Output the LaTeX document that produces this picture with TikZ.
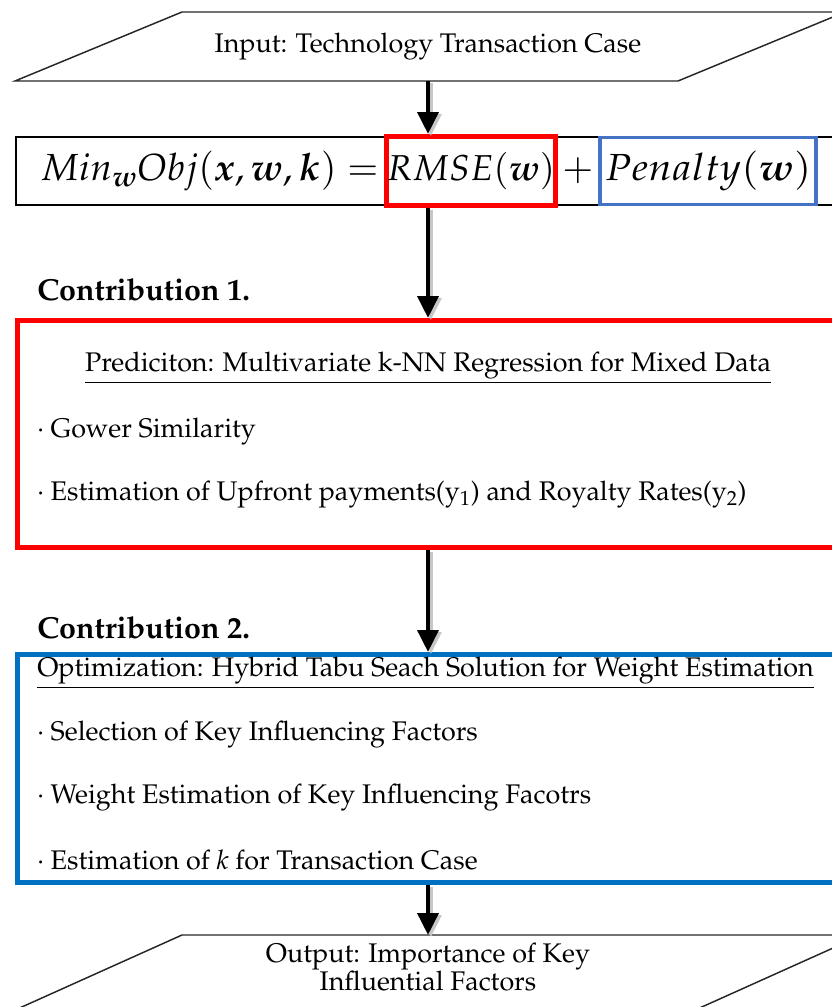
\documentclass[tikz,border=0pt]{standalone}
\usepackage[T1]{fontenc}
\usepackage{mathpazo}
\usepackage{bm}
\usepackage{graphicx}
\usetikzlibrary{arrows.meta}
\definecolor{myred}{RGB}{255,0,0}
\definecolor{myblue}{RGB}{0,112,192}
\definecolor{lblue}{RGB}{68,114,196}
\begin{document}
\begin{tikzpicture}[x=0.75pt,y=-0.75pt,
  txt/.style={font=\fontsize{20.2}{23}\selectfont, inner sep=0pt},
  ctitle/.style={font=\fontsize{22.8}{26}\selectfont\bfseries, inner sep=0pt},
  fml/.style={font=\fontsize{28.3}{33}\selectfont, inner sep=0pt},
  arr/.style={line width=3.5pt, -{Triangle[length=16.5pt,width=15.5pt]}},
  arrshadow/.style={line width=3.5pt, draw=black!22, -{Triangle[length=16.5pt,width=15.5pt]}, transform canvas={shift={(2.2pt,-1.5pt)}}},
  para/.style={draw=black!85, line width=1.1pt}]
\path[use as bounding box] (0,0) rectangle (832,1007);
\begin{scope}
\clip (0,0) rectangle (832,1007);
% input
\draw[para] (15,81) -- (182,12) -- (845,12) -- (678,81) -- cycle;
\node[txt, minimum height={69*0.75pt}] (inp) at (428,46.5) {Input: Technology Transaction Case};
% objective
\node[draw, line width=1.5pt, minimum width={830*0.75pt}, minimum height={68*0.75pt}, anchor=west, inner sep=0pt] (obj) at (15,171) {};
\node[fml, anchor=east] (lhs) at (379,171) {$Min_{\bm w}Obj(\bm x,\bm w,\bm k) =$};
\node[fml, font=\fontsize{27}{32}\selectfont, draw=myred, line width=3.75pt, minimum width={168*0.75pt}, minimum height={69*0.75pt}] (rmse) at (471,171) {$RMSE(\bm w)$};
\node[fml] (plus) at (578,171) {$+$};
\node[fml, draw=lblue, line width=2.4pt, minimum width={216*0.75pt}, minimum height={67*0.75pt}] (pen) at (708,171) {\scalebox{1.08}[1]{$Penalty(\bm w)$}};
% contribution 1
\node[ctitle, anchor=west] (c1) at (37,290) {Contribution 1.};
\node[draw=myred, line width=3.75pt, minimum width={830*0.75pt}, minimum height={227*0.75pt}, anchor=north west, inner sep=0pt] (box1) at (15,318) {};
\node[txt] (pred) at (428,368) {\underline{Prediciton: Multivariate k-NN Regression for Mixed Data}};
\node[txt, anchor=west] (gow) at (37,432) {\textperiodcentered\ Gower Similarity};
\node[txt, anchor=west] (est) at (37,495) {\textperiodcentered\ Estimation of Upfront payments(y$_1$) and Royalty Rates(y$_2$)};
% contribution 2
\node[ctitle, anchor=west] (c2) at (37,628) {Contribution 2.};
\node[draw=myblue, line width=3.75pt, minimum width={830*0.75pt}, minimum height={228*0.75pt}, anchor=north west, inner sep=0pt] (box2) at (15,652) {};
\node[txt, anchor=west] (opt) at (37,673) {\underline{Optimization: Hybrid Tabu Seach Solution for Weight Estimation}};
\node[txt, anchor=west] (sel) at (37,735) {\textperiodcentered\ Selection of Key Influencing Factors};
\node[txt, anchor=west] (wgt) at (37,798) {\textperiodcentered\ Weight Estimation of Key Influencing Facotrs};
\node[txt, anchor=west] (estk) at (37,860) {\textperiodcentered\ Estimation of \textit{k} for Transaction Case};
% output
\draw[para] (4,1015) -- (182,935) -- (862,935) -- (684,1015) -- cycle;
\coordinate (outtop) at (428,935);
\node[txt, align=center, anchor=base] (out) at (428,990) {Output: Importance of Key\\[-2pt]Influential Factors};
% arrows (shadows first)
\draw[arrshadow] (inp.south) -- (inp.south |- rmse.north);
\draw[arrshadow] (inp.south |- rmse.south) -- (inp.south |- box1.north);
\draw[arrshadow] (inp.south |- box1.south) -- (inp.south |- box2.north);
\draw[arrshadow] (inp.south |- box2.south) -- (outtop);
\draw[arr] (inp.south) -- (inp.south |- rmse.north);
\draw[arr] (inp.south |- rmse.south) -- (inp.south |- box1.north);
\draw[arr] (inp.south |- box1.south) -- (inp.south |- box2.north);
\draw[arr] (inp.south |- box2.south) -- (outtop);
\end{scope}
\end{tikzpicture}
\end{document}
